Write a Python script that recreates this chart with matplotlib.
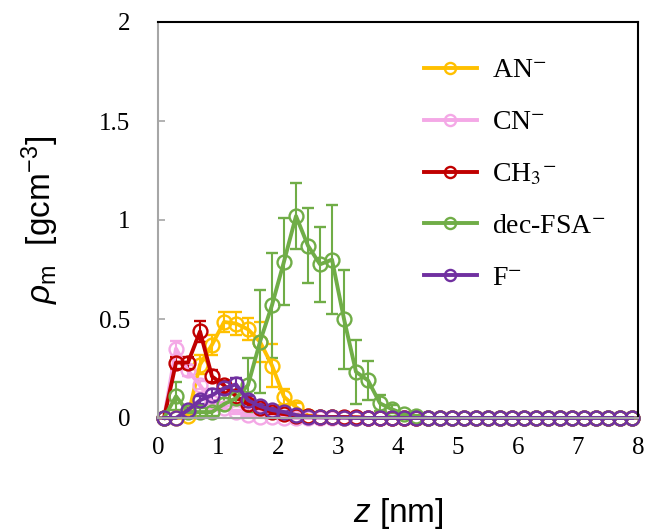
import matplotlib
matplotlib.use("Agg")
import matplotlib.pyplot as plt
from matplotlib.font_manager import FontProperties

# ---- data ----
z = [0.1, 0.3, 0.5, 0.7, 0.9, 1.1, 1.3, 1.5, 1.7, 1.9,
     2.1, 2.3, 2.5, 2.7, 2.9, 3.1, 3.3, 3.5, 3.7, 3.9,
     4.1, 4.3, 4.5, 4.7, 4.9, 5.1, 5.3, 5.5, 5.7, 5.9,
     6.1, 6.3, 6.5, 6.7, 6.9, 7.1, 7.3, 7.5, 7.7, 7.9]

an = [0.0, 0.0, 0.01, 0.27, 0.37, 0.485, 0.477, 0.448, 0.385, 0.265,
      0.107, 0.055, 0.012, 0.005, 0.003, 0.002, 0.0, 0.0, 0.0, 0.0,
      0.0, 0.0, 0.0, 0.0, 0.0, 0.0, 0.0, 0.0, 0.0, 0.0,
      0.0, 0.0, 0.0, 0.0, 0.0, 0.0, 0.0, 0.0, 0.0, 0.0]
an_err = [0.0, 0.0, 0.01, 0.05, 0.05, 0.05, 0.06, 0.055, 0.1, 0.11,
          0.04, 0.02, 0.005, 0.0, 0.0, 0.0, 0.0, 0.0, 0.0, 0.0,
          0.0, 0.0, 0.0, 0.0, 0.0, 0.0, 0.0, 0.0, 0.0, 0.0,
          0.0, 0.0, 0.0, 0.0, 0.0, 0.0, 0.0, 0.0, 0.0, 0.0]

cn = [0.0, 0.35, 0.24, 0.165, 0.08, 0.05, 0.03, 0.015, 0.005, 0.003,
      0.002, 0.0, 0.0, 0.0, 0.0, 0.0, 0.0, 0.0, 0.0, 0.0,
      0.0, 0.0, 0.0, 0.0, 0.0, 0.0, 0.0, 0.0, 0.0, 0.0,
      0.0, 0.0, 0.0, 0.0, 0.0, 0.0, 0.0, 0.0, 0.0, 0.0]
cn_err = [0.0, 0.04, 0.03, 0.02, 0.01, 0.01, 0.01, 0.005, 0.0, 0.0,
          0.0, 0.0, 0.0, 0.0, 0.0, 0.0, 0.0, 0.0, 0.0, 0.0,
          0.0, 0.0, 0.0, 0.0, 0.0, 0.0, 0.0, 0.0, 0.0, 0.0,
          0.0, 0.0, 0.0, 0.0, 0.0, 0.0, 0.0, 0.0, 0.0, 0.0]

ch3 = [0.0, 0.28, 0.28, 0.437, 0.21, 0.165, 0.11, 0.07, 0.05, 0.03,
       0.02, 0.01, 0.008, 0.006, 0.005, 0.005, 0.003, 0.0, 0.0, 0.0,
       0.0, 0.0, 0.0, 0.0, 0.0, 0.0, 0.0, 0.0, 0.0, 0.0,
       0.0, 0.0, 0.0, 0.0, 0.0, 0.0, 0.0, 0.0, 0.0, 0.0]
ch3_err = [0.0, 0.03, 0.03, 0.055, 0.03, 0.02, 0.02, 0.02, 0.01, 0.01,
           0.01, 0.005, 0.0, 0.0, 0.0, 0.0, 0.0, 0.0, 0.0, 0.0,
           0.0, 0.0, 0.0, 0.0, 0.0, 0.0, 0.0, 0.0, 0.0, 0.0,
           0.0, 0.0, 0.0, 0.0, 0.0, 0.0, 0.0, 0.0, 0.0, 0.0]

fsa = [0.0, 0.11, 0.03, 0.03, 0.03, 0.07, 0.10, 0.166, 0.385, 0.57,
       0.79, 1.02, 0.87, 0.776, 0.80, 0.50, 0.233, 0.19, 0.074, 0.044,
       0.02, 0.01, 0.0, 0.0, 0.0, 0.0, 0.0, 0.0, 0.0, 0.0,
       0.0, 0.0, 0.0, 0.0, 0.0, 0.0, 0.0, 0.0, 0.0, 0.0]
fsa_err = [0.0, 0.07, 0.02, 0.02, 0.02, 0.03, 0.04, 0.135, 0.26, 0.265,
           0.22, 0.165, 0.19, 0.19, 0.275, 0.25, 0.16, 0.1, 0.04, 0.02,
           0.01, 0.005, 0.0, 0.0, 0.0, 0.0, 0.0, 0.0, 0.0, 0.0,
           0.0, 0.0, 0.0, 0.0, 0.0, 0.0, 0.0, 0.0, 0.0, 0.0]

f_an = [0.0, 0.0, 0.04, 0.09, 0.115, 0.15, 0.17, 0.09, 0.06, 0.04,
        0.03, 0.015, 0.006, 0.004, 0.003, 0.002, 0.0, 0.0, 0.0, 0.0,
        0.0, 0.0, 0.0, 0.0, 0.0, 0.0, 0.0, 0.0, 0.0, 0.0,
        0.0, 0.0, 0.0, 0.0, 0.0, 0.0, 0.0, 0.0, 0.0, 0.0]
f_err = [0.0, 0.0, 0.01, 0.02, 0.03, 0.03, 0.03, 0.02, 0.01, 0.01,
         0.005, 0.0, 0.0, 0.0, 0.0, 0.0, 0.0, 0.0, 0.0, 0.0,
         0.0, 0.0, 0.0, 0.0, 0.0, 0.0, 0.0, 0.0, 0.0, 0.0,
         0.0, 0.0, 0.0, 0.0, 0.0, 0.0, 0.0, 0.0, 0.0, 0.0]

labels = [r'AN$^{-}$', r'CN$^{-}$', r'CH$_{3}{}^{-}$', r'dec-FSA$^{-}$', r'F$^{-}$']
colors = ['#FFC000', '#F4A8E6', '#C00000', '#70AD47', '#7030A0']
series = [an, cn, ch3, fsa, f_an]
errors = [an_err, cn_err, ch3_err, fsa_err, f_err]

xticks = [0, 1, 2, 3, 4, 5, 6, 7, 8]
yticks = [0, 0.5, 1, 1.5, 2]
yticklabels = ['0', '0.5', '1', '1.5', '2']

# ---- plot ----
plt.rcParams['mathtext.fontset'] = 'custom'
plt.rcParams['mathtext.rm'] = 'Liberation Sans'
plt.rcParams['mathtext.it'] = 'Liberation Sans:italic'

fig = plt.figure(figsize=(6.5, 5.3), dpi=100)
ax = fig.add_axes([158/650, 1-418/530, (638-158)/650, (418-22)/530])

lines = []
for y, e, c, lab in zip(series, errors, colors, labels):
    cont = ax.errorbar(z, y, yerr=e, color=c, lw=2.8, marker='o', ms=10,
                       mfc='none', mec=c, mew=1.7, ecolor=c, elinewidth=1.5,
                       capsize=4.5, capthick=1.5, label=lab, clip_on=False)
    lines.append(cont[0])

ax.set_xlim(0, 8)
ax.set_ylim(0, 2)
ax.set_xticks(xticks)
ax.set_yticks(yticks)
ax.set_yticklabels(yticklabels)

serif = FontProperties(family='Liberation Serif', size=18)
for t in ax.get_xticklabels() + ax.get_yticklabels():
    t.set_fontproperties(serif)

ax.tick_params(axis='x', length=0, pad=14)
ax.tick_params(axis='y', direction='in', length=5, width=1.2, color='#A6A6A6', pad=20)

for s in ['left', 'bottom']:
    ax.spines[s].set_color('#A6A6A6')
    ax.spines[s].set_linewidth(1.5)
for s in ['top', 'right']:
    ax.spines[s].set_color('black')
    ax.spines[s].set_linewidth(1.5)

ax.set_xlabel(r'$z$ [nm]', fontsize=24, family='Liberation Sans', labelpad=26)
ax.set_ylabel(r'$\rho_{\mathrm{m}}$  [gcm$^{\mathrm{-3}}$]', fontsize=24,
              family='Liberation Sans', labelpad=27)

lprop = FontProperties(family='Liberation Serif', size=20, math_fontfamily='stix')
leg = ax.legend(lines, labels, loc='upper left', bbox_to_anchor=(424/650, 1-58/530),
                bbox_transform=fig.transFigure, frameon=False, prop=lprop,
                handlelength=1.9, handletextpad=0.55, labelspacing=0.95,
                borderpad=0, borderaxespad=0, markerscale=0.8)

fig.savefig('out.png', dpi=100)
